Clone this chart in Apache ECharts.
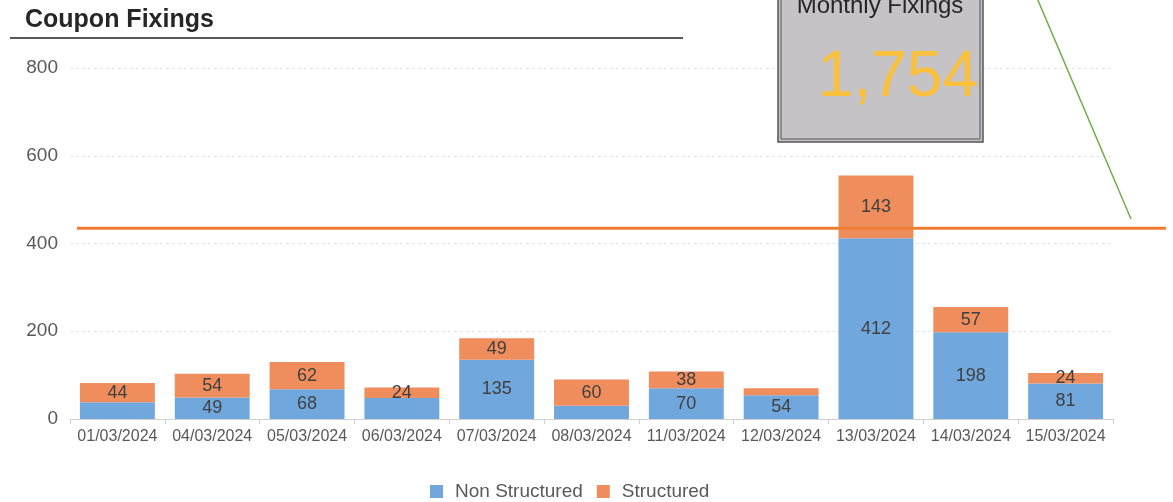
<!DOCTYPE html>
<html>
<head>
<meta charset="utf-8">
<script src="https://cdn.jsdelivr.net/npm/echarts@6/dist/echarts.min.js"></script>
<style>
html, body { margin: 0; padding: 0; background: #fff; }
#main { width: 1173px; height: 502px; }
</style>
</head>
<body>
<div id="main"></div>
<script>
// dates of the coupon fixings
var categories = ['01/03/2024', '04/03/2024', '05/03/2024', '06/03/2024', '07/03/2024', '08/03/2024',
  '11/03/2024', '12/03/2024', '13/03/2024', '14/03/2024', '15/03/2024'];
var nonStructured = [38, 49, 68, 48, 135, 30, 70, 54, 412, 198, 81];
var structured = [44, 54, 62, 24, 49, 60, 38, 16, 143, 57, 24];
// labels the original hides (index lists)
var hideNonLabel = [0, 3, 5];
var hideStrLabel = [7];
var yTicks = [0, 200, 400, 600, 800];
var monthlyTotal = '1,754';
var thresholdValue = 435;

var font = '"Liberation Sans", Arial, sans-serif';

function toItems(values, hidden) {
  return values.map(function (v, i) {
    return hidden.indexOf(i) >= 0 ? { value: v, label: { show: false } } : v;
  });
}

var myChart = echarts.init(document.getElementById('main'));
var option = {
  animation: false,
  textStyle: { fontFamily: font },
  title: {
    text: 'Coupon Fixings',
    left: 20,
    top: 3,
    textStyle: { fontSize: 25, fontWeight: 'bold', color: '#262626', fontFamily: font }
  },
  legend: {
    top: 477,
    left: 425,
    itemWidth: 13,
    itemHeight: 13,
    itemGap: 14,
    icon: 'rect',
    textStyle: { fontSize: 19, color: '#595959', fontFamily: font, padding: [0, 0, 0, 7] },
    data: ['Non Structured', 'Structured']
  },
  grid: { left: 70, right: 60, top: 68, bottom: 83, containLabel: false },
  xAxis: {
    type: 'category',
    data: categories,
    axisLine: { lineStyle: { color: '#d0d0d0' } },
    axisTick: { show: true, length: 5, lineStyle: { color: '#d0d0d0' } },
    axisLabel: { color: '#595959', fontSize: 16, margin: 10, interval: 0 }
  },
  yAxis: {
    type: 'value',
    min: yTicks[0],
    max: yTicks[yTicks.length - 1],
    interval: 200,
    axisLine: { show: false },
    axisTick: { show: false },
    axisLabel: { color: '#595959', fontSize: 19, margin: 12 },
    splitLine: { lineStyle: { color: '#e3e3e3', type: [3, 3] } }
  },
  series: [
    {
      name: 'Non Structured',
      type: 'bar',
      stack: 'total',
      barCategoryGap: '21%',
      itemStyle: { color: '#70a8de' },
      label: { show: true, position: 'inside', color: '#404040', fontSize: 18 },
      data: toItems(nonStructured, hideNonLabel)
    },
    {
      name: 'Structured',
      type: 'bar',
      stack: 'total',
      itemStyle: { color: '#ef8d5c' },
      label: { show: true, position: 'inside', color: '#404040', fontSize: 18 },
      data: toItems(structured, hideStrLabel)
    }
  ]
};
myChart.setOption(option);

// overlay shapes: threshold line, call-out arrow and the monthly total box
var lineY = myChart.convertToPixel({ yAxisIndex: 0 }, thresholdValue);
myChart.setOption({
  graphic: [
    {
      type: 'line', z: 100,
      shape: { x1: 10, y1: 38, x2: 683, y2: 38 },
      style: { stroke: '#595959', lineWidth: 2 }
    },
    {
      type: 'line', z: 100,
      shape: { x1: 77, y1: lineY, x2: 1166, y2: lineY },
      style: { stroke: '#ed7d31', lineWidth: 3 }
    },
    {
      type: 'line', z: 100,
      shape: { x1: 1037, y1: -2, x2: 1131, y2: 219 },
      style: { stroke: '#70ad47', lineWidth: 1.5 }
    },
    {
      type: 'rect', z: 100,
      shape: { x: 778, y: -10, width: 205, height: 152 },
      style: { fill: '#c5c3c6', stroke: '#555', lineWidth: 1.5 }
    },
    {
      type: 'rect', z: 101,
      shape: { x: 781, y: -10, width: 199, height: 149 },
      style: { fill: 'none', stroke: '#555', lineWidth: 1 }
    },
    {
      type: 'text', z: 102,
      x: 880, y: 18,
      style: { text: 'Monthly Fixings', font: '24px ' + font, fill: '#262626', align: 'center', verticalAlign: 'bottom' }
    },
    {
      type: 'text', z: 102,
      x: 978, y: 110,
      style: { text: monthlyTotal, font: '64px ' + font, fill: '#fbc13c', align: 'right', verticalAlign: 'bottom' }
    }
  ]
});
</script>
</body>
</html>
